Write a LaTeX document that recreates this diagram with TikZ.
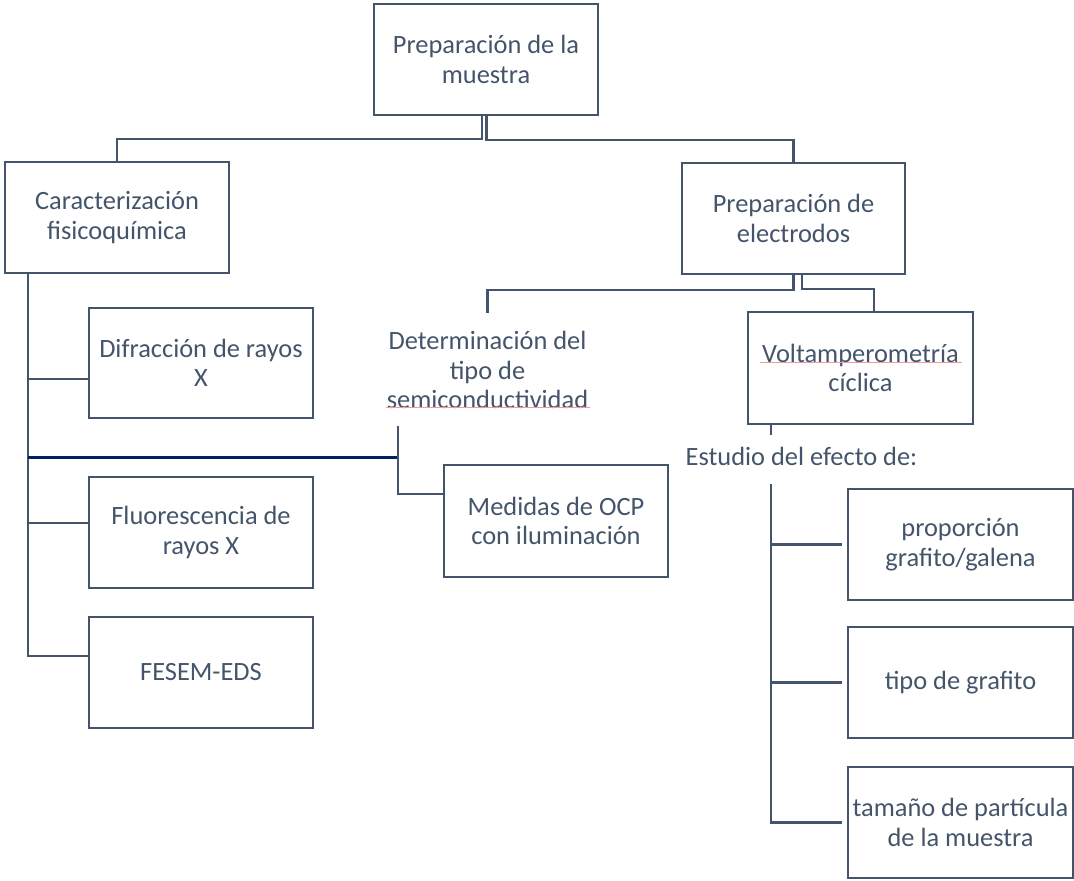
\documentclass[tikz,border=0pt]{standalone}
\usepackage{fontspec}
\setmainfont{Carlito}
\definecolor{ln}{HTML}{44546A}
\definecolor{dk}{HTML}{002060}
\definecolor{sp}{HTML}{F29A9A}
\begin{document}
\begin{tikzpicture}[x=1pt,y=-1pt,
  txt/.style={align=center, text=ln, inner sep=0pt, font=\fontsize{26.4}{29.5}\selectfont},
  box/.style={txt, draw=ln, line width=2.3pt, minimum width=224pt, minimum height=111pt},
  conn/.style={draw=ln, line width=2.3pt},
  bluebar/.style={draw=dk, line width=3pt},
  spell/.style={draw=sp, line width=1pt}]
\useasboundingbox (0,0) rectangle (1074,881);
% boxes
\node[box] (top)   at (486,59.5)   {Preparación de la\\muestra};
\node[box] (carac) at (117,217.5)  {Caracterización\\fisicoquímica};
\node[box, minimum width=223pt] (elec) at (793.5,218.5) {Preparación de\\electrodos};
\node[box, minimum height=110pt] (difr) at (201,363) {Difracción de rayos\\X};
\node[box] (fluor) at (201,532.5)  {Fluorescencia de\\rayos X};
\node[box] (fesem) at (201,672.5)  {FESEM-EDS};
\node[box, minimum width=225pt, minimum height=112pt] (volt) at (860.5,368) {Voltamperometría\\cíclica};
\node[box, minimum height=112pt] (med) at (556,521) {Medidas de OCP\\con iluminación};
\node[box, minimum width=225pt] (prop) at (960.5,544.5) {proporción\\grafito/galena};
\node[box, minimum width=225pt] (tipo) at (960.5,682.5) {tipo de grafito};
\node[box, minimum width=225pt] (tam)  at (960.5,822.5) {tamaño de partícula\\de la muestra};
% free texts
\node[txt] (det) at (487.5,370) {Determinación del\\tipo de\\semiconductividad};
\node[txt, anchor=base] (est) at (801.5,465) {Estudio del efecto de:};
% spell-check underlines
\draw[spell] (386,407.5) -- (590,407.5);
\draw[spell] (760,362) -- (962,362);
% junction coordinates
\coordinate (cb) at (28,273);
\coordinate (j1) at (398,426);
\coordinate (eb) at (771,484);
% connectors
\draw[conn] ([xshift=-4pt]top.south) -- ++(0,23) -| (carac.north);
\draw[conn] ([xshift=0.5pt]top.south) -- ++(0,24) -| (elec.north);
\draw[conn] (elec.south) -- ++(0,15) -| ([yshift=18pt]det.north);
\draw[conn] ([xshift=8.5pt]elec.south) -- ++(0,14) -| ([xshift=13.5pt]volt.north);
\draw[conn] (cb) |- ([yshift=16.5pt]fesem.west);
\draw[conn] (cb) |- ([yshift=-16pt]difr.west);
\draw[conn] (cb) |- ([yshift=9.5pt]fluor.west);
\draw[bluebar] (cb |- 0,457) -- (j1 |- 0,457);
\draw[conn] (j1) |- ([yshift=27pt]med.west);
\draw[conn] ([xshift=-89.5pt]volt.south) -- ++(0,10);
\draw[conn] (eb) |- ([xshift=-5pt]tam.west);
\draw[conn] (eb) |- ([xshift=-5pt]prop.west);
\draw[conn] (eb) |- ([xshift=-5pt]tipo.west);
\end{tikzpicture}
\end{document}
